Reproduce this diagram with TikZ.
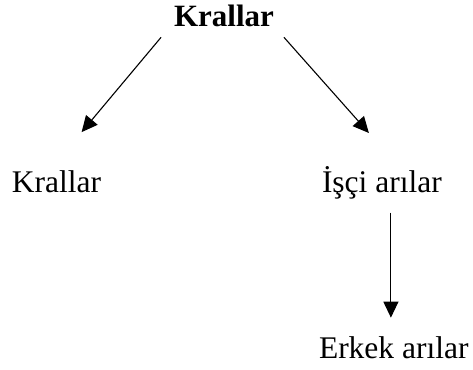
\documentclass[tikz,border=0pt]{standalone}
\usepackage{fontspec}
\setmainfont{Liberation Serif}
\usetikzlibrary{arrows.meta}
\begin{document}
\begin{tikzpicture}[x=1pt,y=-1pt,
  label/.style={inner sep=0pt, outer sep=0pt, font=\fontsize{31.5}{36}\selectfont},
  link/.style={line width=1.1pt, -{Triangle[width=15pt,length=16pt]}}]
\useasboundingbox (0,0) rectangle (473,369);
% nodes
\node[label, anchor=base, font=\fontsize{31}{36}\selectfont\bfseries] (top) at (224,27) {Krallar};
\node[label, anchor=base west] (kr) at (12,192) {Krallar};
\node[label, anchor=base west] (isci) at (322,192) {İşçi arılar};
\node[label, anchor=base west] (erk) at (319,358) {Erkek arılar};
% connectors
\draw[link] ([xshift=-13pt,yshift=-10pt]top.south west) -- ([xshift=25pt,yshift=38pt]kr.north);
\draw[link] ([xshift=10pt,yshift=-10pt]top.south east) -- ([xshift=-13pt,yshift=33pt]isci.north);
\coordinate (s) at ([xshift=9pt,yshift=-14pt]isci.south);
\coordinate (e) at ([yshift=18.5pt]erk.north);
\draw[link] (s) -- (e -| s);
\end{tikzpicture}
\end{document}
